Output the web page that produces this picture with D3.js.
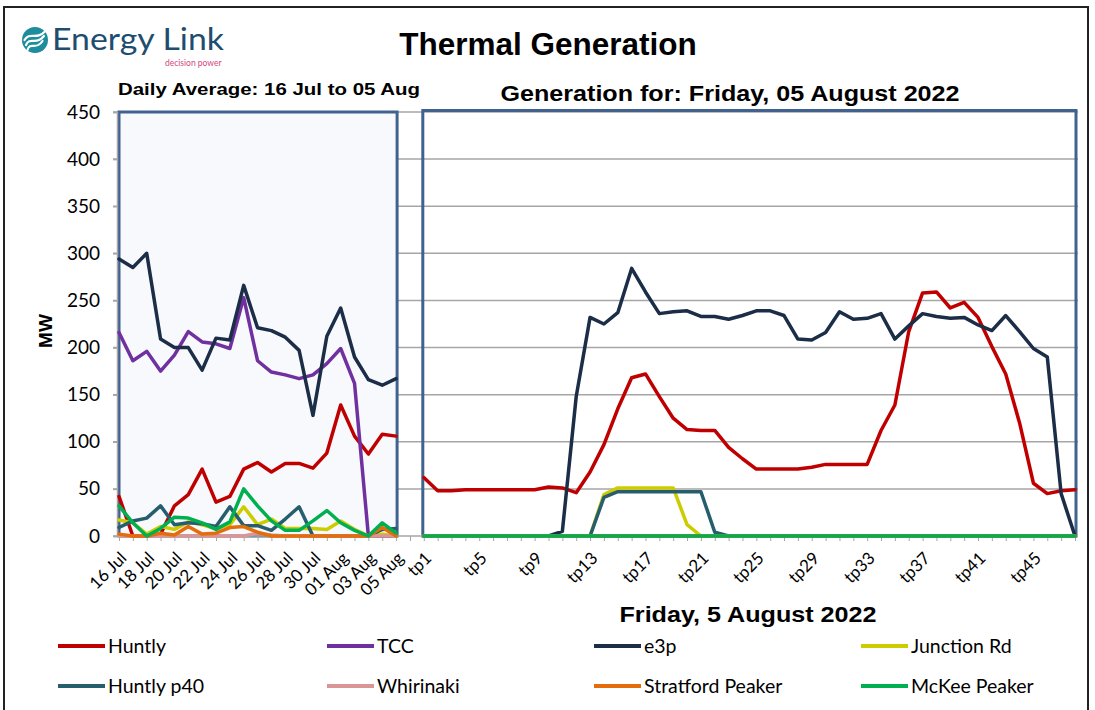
<!DOCTYPE html>
<html>
<head>
<meta charset="utf-8">
<script src="https://cdn.jsdelivr.net/npm/d3@7"></script>
<style>
  body { margin: 0; background: #fff; }
  svg { display: block; }
</style>
</head>
<body>
<div id="chart"></div>
<script>
// categories
const days = ["16 Jul", "17 Jul", "18 Jul", "19 Jul", "20 Jul", "21 Jul", "22 Jul", "23 Jul", "24 Jul", "25 Jul",
  "26 Jul", "27 Jul", "28 Jul", "29 Jul", "30 Jul", "31 Jul", "01 Aug", "02 Aug", "03 Aug", "04 Aug", "05 Aug"];
const tps = d3.range(1, 49).map(d => "tp" + d);
const dayLabels = ["16 Jul", "18 Jul", "20 Jul", "22 Jul", "24 Jul", "26 Jul", "28 Jul", "30 Jul", "01 Aug", "03 Aug", "05 Aug"];
const tpLabels = ["tp1", "tp5", "tp9", "tp13", "tp17", "tp21", "tp25", "tp29", "tp33", "tp37", "tp41", "tp45"];
const yTicks = [0, 50, 100, 150, 200, 250, 300, 350, 400, 450];

// daily averages, 16 Jul - 05 Aug (MW)
const huntlyDaily    = [42, 0, 0, 2, 32, 44, 71, 36, 42, 71, 78, 68, 77, 77, 72, 88, 139, 106, 87, 108, 106];
const tccDaily       = [216, 186, 196, 175, 192, 217, 206, 204, 199, 253, 186, 174, 171, 167, 171, 183, 199, 162, 0, 0, 0];
const e3pDaily       = [294, 285, 300, 209, 200, 200, 176, 210, 208, 266, 221, 218, 211, 197, 128, 212, 242, 190, 166, 160, 167];
const junctionDaily  = [17, 14, 2, 10, 7, 15, 12, 8, 12, 31, 12, 18, 8, 8, 8, 7, 16, 7, 0, 2, 0];
const p40Daily       = [9, 16, 19, 32, 12, 14, 13, 10, 31, 11, 11, 6, 18, 31, 0, 0, 0, 0, 0, 7, 8];
const whirinakiDaily = [0, 0, 0, 0, 0, 0, 0, 0, 0, 0, 3, 1, 0, 0, 0, 0, 0, 0, 0, 0, 0];
const stratfordDaily = [2, 0, 0, 3, 1, 10, 2, 3, 9, 10, 4, 0, 0, 0, 0, 0, 0, 0, 0, 9, 0];
const mckeeDaily     = [32, 14, 0, 8, 20, 19, 14, 7, 15, 50, 32, 16, 6, 6, 16, 27, 14, 6, 0, 14, 3];

// trading periods, Friday 5 August 2022 (MW)
const huntlyTp = [62, 48, 48, 49, 49, 49, 49, 49, 49, 52, 51, 46, 68, 97, 135, 168, 172, 148, 125, 113, 112, 112, 94, 82,
  71, 71, 71, 71, 73, 76, 76, 76, 76, 112, 139, 217, 258, 259, 242, 248, 232, 201, 172, 120, 56, 45, 48, 49];
const tccTp = [0, 0, 0, 0, 0, 0, 0, 0, 0, 0, 0, 0, 0, 0, 0, 0, 0, 0, 0, 0, 0, 0, 0, 0,
  0, 0, 0, 0, 0, 0, 0, 0, 0, 0, 0, 0, 0, 0, 0, 0, 0, 0, 0, 0, 0, 0, 0, 0];
const e3pTp = [0, 0, 0, 0, 0, 0, 0, 0, 0, 0, 5, 148, 232, 225, 237, 284, 259, 236, 238, 239, 233, 233, 230, 234,
  239, 239, 234, 209, 208, 216, 238, 230, 231, 236, 209, 223, 236, 233, 231, 232, 224, 218, 234, 217, 199, 190, 45, 0];
const junctionTp = [0, 0, 0, 0, 0, 0, 0, 0, 0, 0, 0, 0, 0, 44, 51, 51, 51, 51, 51, 12, 0, 0, 0, 0,
  0, 0, 0, 0, 0, 0, 0, 0, 0, 0, 0, 0, 0, 0, 0, 0, 0, 0, 0, 0, 0, 0, 0, 0];
const p40Tp = [0, 0, 0, 0, 0, 0, 0, 0, 0, 0, 0, 0, 0, 41, 47, 47, 47, 47, 47, 47, 47, 4, 0, 0,
  0, 0, 0, 0, 0, 0, 0, 0, 0, 0, 0, 0, 0, 0, 0, 0, 0, 0, 0, 0, 0, 0, 0, 0];
const whirinakiTp = [0, 0, 0, 0, 0, 0, 0, 0, 0, 0, 0, 0, 0, 0, 0, 0, 0, 0, 0, 0, 0, 0, 0, 0,
  0, 0, 0, 0, 0, 0, 0, 0, 0, 0, 0, 0, 0, 0, 0, 0, 0, 0, 0, 0, 0, 0, 0, 0];
const stratfordTp = [0, 0, 0, 0, 0, 0, 0, 0, 0, 0, 0, 0, 0, 0, 0, 0, 0, 0, 0, 0, 0, 0, 0, 0,
  0, 0, 0, 0, 0, 0, 0, 0, 0, 0, 0, 0, 0, 0, 0, 0, 0, 0, 0, 0, 0, 0, 0, 0];
const mckeeTp = [0, 0, 0, 0, 0, 0, 0, 0, 0, 0, 0, 0, 0, 0, 0, 0, 0, 0, 0, 0, 0, 0, 0, 0,
  0, 0, 0, 0, 0, 0, 0, 0, 0, 0, 0, 0, 0, 0, 0, 0, 0, 0, 0, 0, 0, 0, 0, 0];

const seriesNames = ["Huntly", "TCC", "e3p", "Junction Rd", "Huntly p40", "Whirinaki", "Stratford Peaker", "McKee Peaker"];
const seriesColors = ["#c00000", "#7030a0", "#1b2d47", "#cccc00", "#275e6e", "#d99694", "#e46c0a", "#00b050"];
const dailyValues = [huntlyDaily, tccDaily, e3pDaily, junctionDaily, p40Daily, whirinakiDaily, stratfordDaily, mckeeDaily];
const tpValues = [huntlyTp, tccTp, e3pTp, junctionTp, p40Tp, whirinakiTp, stratfordTp, mckeeTp];

const W = 1095, H = 710;
const boxColor = "#41618f";
const gridColor = "#a6a6a6";
const boldFont = "'Liberation Sans', Arial, sans-serif";
const bodyFont = "Lato, 'Open Sans', sans-serif";

const svg = d3.select("#chart").append("svg")
  .attr("width", W)
  .attr("height", H);

svg.append("rect").attr("width", W).attr("height", H).attr("fill", "#fff");

// outer frame
svg.append("rect")
  .attr("x", 4).attr("y", 7)
  .attr("width", 1084).attr("height", 720)
  .attr("fill", "none")
  .attr("stroke", "#222")
  .attr("stroke-width", 2);

// one continuous category axis: days, a blank slot, then trading periods
const cats = days.concat([" "], tps);
const x = d3.scalePoint().domain(cats).range([119, 1075]);
const y = d3.scaleLinear().domain([0, 450]).range([536, 112]);

// gridlines
svg.append("g")
  .selectAll("line")
  .data(yTicks.slice(1))
  .enter().append("line")
  .attr("x1", 113).attr("x2", 1078)
  .attr("y1", d => y(d)).attr("y2", d => y(d))
  .attr("stroke", gridColor)
  .attr("stroke-width", 1.5);

// panel boxes
svg.append("rect")
  .attr("x", x(days[0])).attr("y", y(450))
  .attr("width", x(days[days.length - 1]) - x(days[0]) + 1)
  .attr("height", y(0) - y(450))
  .attr("fill", "#f7f9fc")
  .attr("stroke", boxColor)
  .attr("stroke-width", 3);

svg.append("rect")
  .attr("x", x(tps[0]) - 1).attr("y", y(450) - 1.5)
  .attr("width", x(tps[tps.length - 1]) - x(tps[0]) + 2)
  .attr("height", y(0) - y(450) + 1.5)
  .attr("fill", "none")
  .attr("stroke", boxColor)
  .attr("stroke-width", 3);

// y axis
const yAxis = svg.append("g")
  .attr("transform", "translate(117,0)")
  .call(d3.axisLeft(y).tickValues(yTicks).tickSize(4).tickPadding(13));
yAxis.select(".domain").attr("stroke", gridColor).attr("stroke-width", 1.5);
yAxis.selectAll(".tick line").attr("stroke", gridColor).attr("stroke-width", 1.5);
yAxis.selectAll("text")
  .attr("font-family", bodyFont)
  .attr("font-size", "19px")
  .attr("fill", "#000");

// x axis
const labelSet = new Set(dayLabels.concat(tpLabels));
const xAxis = svg.append("g")
  .attr("transform", "translate(0,536)")
  .call(d3.axisBottom(x).tickSize(5).tickFormat(d => labelSet.has(d) ? d : ""));
xAxis.select(".domain").attr("stroke", gridColor).attr("stroke-width", 1.5)
  .attr("d", "M113,0H1078");
xAxis.selectAll(".tick line").attr("stroke", gridColor).attr("stroke-width", 1);
xAxis.selectAll("text")
  .attr("font-family", bodyFont)
  .attr("font-size", "17px")
  .attr("fill", "#000")
  .attr("text-anchor", "end")
  .attr("dy", "0.35em")
  .attr("y", 0)
  .attr("transform", "translate(4,19) rotate(-45)");

// series lines
const line = d3.line()
  .x(d => x(d[0]))
  .y(d => y(d[1]));

const linesG = svg.append("g")
  .attr("fill", "none")
  .attr("stroke-width", 3.5)
  .attr("stroke-linejoin", "round")
  .attr("stroke-linecap", "round");

seriesNames.forEach((name, i) => {
  linesG.append("path")
    .datum(days.map((d, j) => [d, dailyValues[i][j]]))
    .attr("stroke", seriesColors[i])
    .attr("d", line);
  linesG.append("path")
    .datum(tps.map((d, j) => [d, tpValues[i][j]]))
    .attr("stroke", seriesColors[i])
    .attr("d", line);
});

// titles
svg.append("text")
  .attr("x", 548).attr("y", 55)
  .attr("text-anchor", "middle")
  .attr("font-family", boldFont)
  .attr("font-weight", "bold")
  .attr("font-size", "31.5px")
  .text("Thermal Generation");

svg.append("text")
  .attr("x", 118).attr("y", 95)
  .attr("font-family", boldFont)
  .attr("font-weight", "bold")
  .attr("font-size", "17px")
  .attr("textLength", 302)
  .attr("lengthAdjust", "spacingAndGlyphs")
  .text("Daily Average: 16 Jul to 05 Aug");

svg.append("text")
  .attr("x", 730).attr("y", 101)
  .attr("text-anchor", "middle")
  .attr("font-family", boldFont)
  .attr("font-weight", "bold")
  .attr("font-size", "22px")
  .attr("textLength", 459)
  .attr("lengthAdjust", "spacingAndGlyphs")
  .text("Generation for: Friday, 05 August 2022");

svg.append("text")
  .attr("x", 748).attr("y", 622)
  .attr("text-anchor", "middle")
  .attr("font-family", boldFont)
  .attr("font-weight", "bold")
  .attr("font-size", "22px")
  .attr("textLength", 257)
  .attr("lengthAdjust", "spacingAndGlyphs")
  .text("Friday, 5 August 2022");

svg.append("text")
  .attr("transform", "translate(52,331) rotate(-90)")
  .attr("text-anchor", "middle")
  .attr("font-family", boldFont)
  .attr("font-weight", "bold")
  .attr("font-size", "19px")
  .text("MW");

// logo
const logo = svg.append("g");
logo.append("circle")
  .attr("cx", 35).attr("cy", 40).attr("r", 13)
  .attr("fill", "#1d8d9e");
[-5, 0, 5].forEach(o => {
  logo.append("path")
    .attr("d", `M${26 + o * 0.3},${45 + o} C${30},${36 + o} ${36},${46 + o} ${44 - o * 0.3},${36 + o}`)
    .attr("fill", "none")
    .attr("stroke", "#fff")
    .attr("stroke-width", 2.2)
    .attr("stroke-linecap", "round");
});
logo.append("text")
  .attr("x", 52).attr("y", 50)
  .attr("font-family", bodyFont)
  .attr("font-size", "31px")
  .attr("fill", "#1e4d70")
  .attr("textLength", 172)
  .attr("lengthAdjust", "spacingAndGlyphs")
  .text("Energy Link");
logo.append("text")
  .attr("x", 165).attr("y", 66)
  .attr("font-family", bodyFont)
  .attr("font-size", "8.5px")
  .attr("fill", "#d4477e")
  .text("decision power");

// legend
const legendX = [58, 327, 594, 861];
const legendY = [646, 686];
const legend = svg.append("g")
  .selectAll("g")
  .data(seriesNames)
  .enter().append("g")
  .attr("transform", (d, i) => `translate(${legendX[i % 4]},${legendY[Math.floor(i / 4)]})`);
legend.append("line")
  .attr("x1", 0).attr("x2", 47)
  .attr("stroke", (d, i) => seriesColors[i])
  .attr("stroke-width", 4);
legend.append("text")
  .attr("x", 50).attr("dy", "0.35em")
  .attr("font-family", bodyFont)
  .attr("font-size", "19.5px")
  .text(d => d);
</script>
</body>
</html>
